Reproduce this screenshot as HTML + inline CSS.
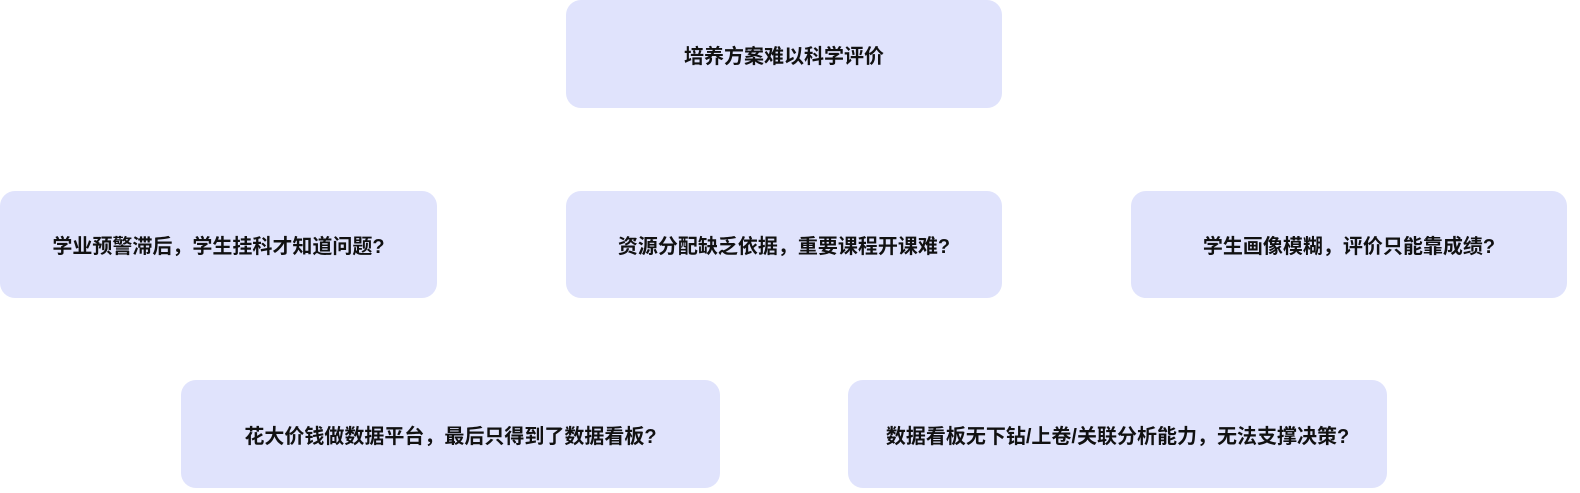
<!DOCTYPE html>
<html><head><meta charset="utf-8"><style>
body{margin:0;width:1580px;height:493px;background:#fff;position:relative;overflow:hidden;font-family:"Liberation Sans","Noto Sans CJK SC",sans-serif;}
.b{position:absolute;background:#e0e3fc;border-radius:15px;display:flex;align-items:center;justify-content:center;font-size:20px;font-weight:bold;color:#111;}
</style></head><body>
<div class="b" style="left:566px;top:0;width:436px;height:108px">培养方案难以科学评价</div>
<div class="b" style="left:0;top:191px;width:437px;height:107px">学业预警滞后，学生挂科才知道问题?</div>
<div class="b" style="left:566px;top:191px;width:436px;height:107px">资源分配缺乏依据，重要课程开课难?</div>
<div class="b" style="left:1131px;top:191px;width:436px;height:107px">学生画像模糊，评价只能靠成绩?</div>
<div class="b" style="left:181px;top:380px;width:539px;height:108px">花大价钱做数据平台，最后只得到了数据看板?</div>
<div class="b" style="left:848px;top:380px;width:539px;height:108px">数据看板无下钻/上卷/关联分析能力，无法支撑决策?</div>
</body></html>
